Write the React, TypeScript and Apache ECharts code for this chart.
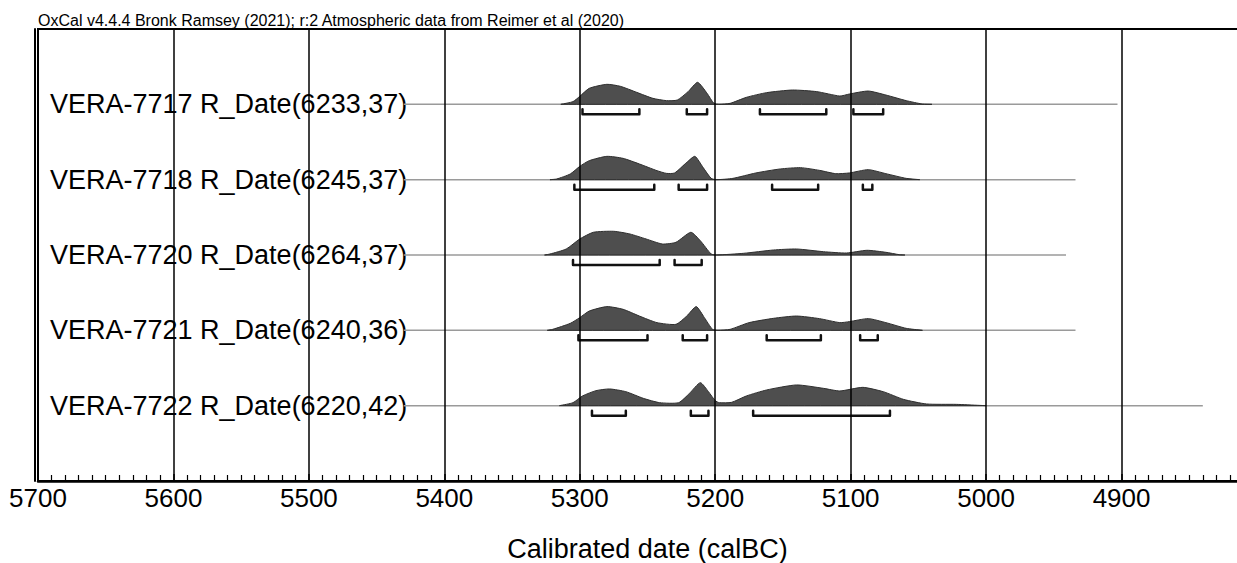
import React, { useEffect, useRef } from "react";
import * as echarts from "echarts";

const titleText =
  "OxCal v4.4.4 Bronk Ramsey (2021); r:2 Atmospheric data from Reimer et al (2020)";
const axisName = "Calibrated date (calBC)";

const xMin = 4800;
const xMax = 5700;
const xStep = 100;
const xTickLabels = ["5700", "5600", "5500", "5400", "5300", "5200", "5100", "5000", "4900"];

const rowLabels = [
  "VERA-7717 R_Date(6233,37)",
  "VERA-7718 R_Date(6245,37)",
  "VERA-7720 R_Date(6264,37)",
  "VERA-7721 R_Date(6240,36)",
  "VERA-7722 R_Date(6220,42)",
];

const lineStart = [5430, 5430, 5430, 5430, 5430];
const lineEnd = [4903, 4934, 4941, 4934, 4840];

// [calBC year, relative probability]
const prob7717: [number, number][] = [
  [5314, 0], [5305, 2.7], [5300, 8], [5293, 16], [5280, 20], [5270, 18],
  [5258, 12], [5246, 6], [5236, 3.7], [5228, 4.3], [5220, 12.7], [5213, 22],
  [5206, 11], [5201, 1], [5197, 0], [5189, 1], [5177, 7], [5162, 11.7],
  [5143, 14.3], [5125, 12.7], [5108, 8.3], [5101, 10.3], [5087, 13.3],
  [5074, 9.3], [5059, 3.7], [5047, 0.3], [5040, 0],
];
const prob7718: [number, number][] = [
  [5322, 0], [5317, 0.7], [5307, 5.7], [5300, 13.3], [5293, 19], [5280, 23.3],
  [5268, 21.3], [5256, 15.7], [5243, 9], [5236, 6.3], [5230, 6.7], [5221, 17.3],
  [5215, 23.3], [5209, 12.3], [5203, 1.3], [5199, 0], [5187, 1.3], [5170, 6.7],
  [5152, 10.7], [5137, 12], [5123, 9.3], [5111, 6], [5101, 6.7], [5087, 10],
  [5074, 6], [5059, 1.3], [5049, 0],
];
const prob7720: [number, number][] = [
  [5326, 0], [5322, 1], [5310, 6], [5300, 16], [5290, 22.7], [5275, 23.7],
  [5263, 21], [5251, 16], [5239, 11], [5229, 12.7], [5218, 22.7], [5211, 14.3],
  [5203, 1], [5199, 0], [5179, 1.7], [5157, 5], [5140, 6], [5120, 3.3],
  [5103, 2], [5088, 4.7], [5074, 2.7], [5064, 0.3], [5060, 0],
];
const prob7721: [number, number][] = [
  [5324, 0], [5320, 1], [5307, 7], [5300, 12.7], [5293, 19.3], [5280, 23.7],
  [5268, 21], [5256, 14.3], [5243, 7.7], [5229, 6], [5221, 14.3], [5214, 23.7],
  [5208, 12.7], [5202, 1], [5198, 0], [5189, 1], [5175, 7.7], [5157, 12],
  [5140, 14.3], [5123, 11.7], [5108, 7.7], [5101, 8.7], [5087, 11.7],
  [5074, 7.7], [5059, 2], [5047, 0],
];
const prob7722: [number, number][] = [
  [5315, 0], [5305, 3], [5298, 9.7], [5288, 15], [5278, 16.7], [5266, 14],
  [5253, 7.3], [5241, 3], [5227, 3], [5219, 12.3], [5211, 23], [5205, 14],
  [5200, 5], [5197, 3], [5188, 3.3], [5177, 9.7], [5162, 15.7], [5140, 20.7],
  [5120, 17.3], [5108, 14.7], [5091, 18.3], [5076, 14], [5061, 6.3],
  [5044, 1.7], [5022, 1.3], [5005, 0.3], [5000, 0],
];

// 95.4% HPD ranges [from, to]
const hpd7717: [number, number][] = [[5298, 5256], [5221, 5206], [5167, 5118], [5098, 5076]];
const hpd7718: [number, number][] = [[5304, 5245], [5227, 5206], [5158, 5124], [5091, 5084]];
const hpd7720: [number, number][] = [[5305, 5241], [5230, 5210]];
const hpd7721: [number, number][] = [[5301, 5250], [5224, 5206], [5162, 5122], [5093, 5080]];
const hpd7722: [number, number][] = [[5291, 5266], [5218, 5205], [5172, 5071]];

const probs = [prob7717, prob7718, prob7720, prob7721, prob7722];
const hpds = [hpd7717, hpd7718, hpd7720, hpd7721, hpd7722];

const FONT = "'Liberation Sans', Arial, Helvetica, sans-serif";
const ROWS = rowLabels.length;
const probUnit = 1 / 75.3;

const rowBase = (i: number) => ROWS - i;

export default function App() {
  const ref = useRef<HTMLDivElement>(null);

  useEffect(() => {
    if (!ref.current) return;
    const chart = echarts.init(ref.current, undefined, { renderer: "svg" });

    const baselineSeries = rowLabels.map((_, i) => ({
      type: "line",
      data: [
        [lineStart[i], rowBase(i)],
        [lineEnd[i], rowBase(i)],
      ],
      symbol: "none",
      silent: true,
      lineStyle: { color: "#9a9a9a", width: 1.5 },
      z: 2,
    }));

    const densitySeries = {
      type: "custom",
      data: rowLabels.map((_, i) => [i]),
      encode: { x: -1, y: -1 },
      silent: true,
      z: 3,
      renderItem: (params: any, api: any) => {
        const r = api.value(0) as number;
        const base = rowBase(r);
        const pts = probs[r];
        const points: number[][] = [];
        points.push(api.coord([pts[0][0], base]));
        pts.forEach(([yr, p]) => points.push(api.coord([yr, base + p * probUnit])));
        points.push(api.coord([pts[pts.length - 1][0], base]));
        return {
          type: "polygon",
          shape: { points, smooth: 0.2 },
          style: { fill: "#4e4e4e", stroke: "#2e2e2e", lineWidth: 1 },
        };
      },
    };

    const bracketData: number[][] = [];
    hpds.forEach((ranges, i) => ranges.forEach(([a, b]) => bracketData.push([i, a, b])));

    const bracketSeries = {
      type: "custom",
      data: bracketData,
      encode: { x: -1, y: -1 },
      silent: true,
      z: 4,
      renderItem: (params: any, api: any) => {
        const r = api.value(0) as number;
        const base = rowBase(r);
        const p1 = api.coord([api.value(1), base]);
        const p2 = api.coord([api.value(2), base]);
        return {
          type: "polyline",
          shape: {
            points: [
              [p1[0], p1[1] + 5],
              [p1[0], p1[1] + 10],
              [p2[0], p2[1] + 10],
              [p2[0], p2[1] + 5],
            ],
          },
          style: { stroke: "#111", lineWidth: 2.5, fill: "none", lineJoin: "round", lineCap: "round" },
        };
      },
    };

    chart.setOption({
      animation: false,
      backgroundColor: "#ffffff",
      textStyle: { fontFamily: FONT },
      title: {
        text: titleText,
        left: 38,
        top: 12,
        padding: 0,
        textStyle: { fontSize: 16, fontWeight: "normal", color: "#000", fontFamily: FONT },
      },
      grid: {
        left: 38,
        top: 29,
        right: -20,
        bottom: 82,
        show: true,
        borderColor: "#000",
        borderWidth: 2,
        outerBoundsMode: "none",
        containLabel: false,
      },
      xAxis: {
        type: "value",
        inverse: true,
        min: xMin,
        max: xMax,
        interval: xStep,
        z: 10,
        axisLine: { show: true, onZero: false, lineStyle: { color: "#000", width: 2.5 } },
        axisTick: { show: true, inside: true, length: 7, lineStyle: { color: "#000", width: 1.5 } },
        minorTick: { show: true, splitNumber: 10, length: 6, lineStyle: { color: "#000", width: 1.2 } },
        splitLine: { show: true, lineStyle: { color: "#000", width: 1.5 } },
        axisLabel: {
          color: "#000",
          fontSize: 26,
          margin: 4,
          fontFamily: FONT,
          formatter: (v: number) => (xTickLabels.includes(String(v)) ? String(v) : ""),
        },
        name: axisName,
        nameLocation: "middle",
        nameGap: 54,
        nameTextStyle: { color: "#000", fontSize: 27, fontFamily: FONT },
      },
      yAxis: {
        type: "value",
        min: 0,
        max: ROWS + 1,
        interval: 1,
        offset: 3,
        axisLine: { show: true, lineStyle: { color: "#000", width: 2 } },
        axisTick: { show: false },
        splitLine: { show: false },
        axisLabel: {
          inside: true,
          margin: 15,
          color: "#000",
          fontSize: 27,
          fontFamily: FONT,
          formatter: (v: number) => {
            const idx = ROWS - v;
            return idx >= 0 && idx < ROWS && Number.isInteger(v) && v > 0 ? rowLabels[idx] : "";
          },
        },
      },
      series: [...baselineSeries, densitySeries, bracketSeries],
    });

    return () => chart.dispose();
  }, []);

  return (
    <div
      ref={ref}
      style={{ position: "absolute", left: 0, top: 0, width: 1237, height: 563, overflow: "hidden" }}
    />
  );
}
